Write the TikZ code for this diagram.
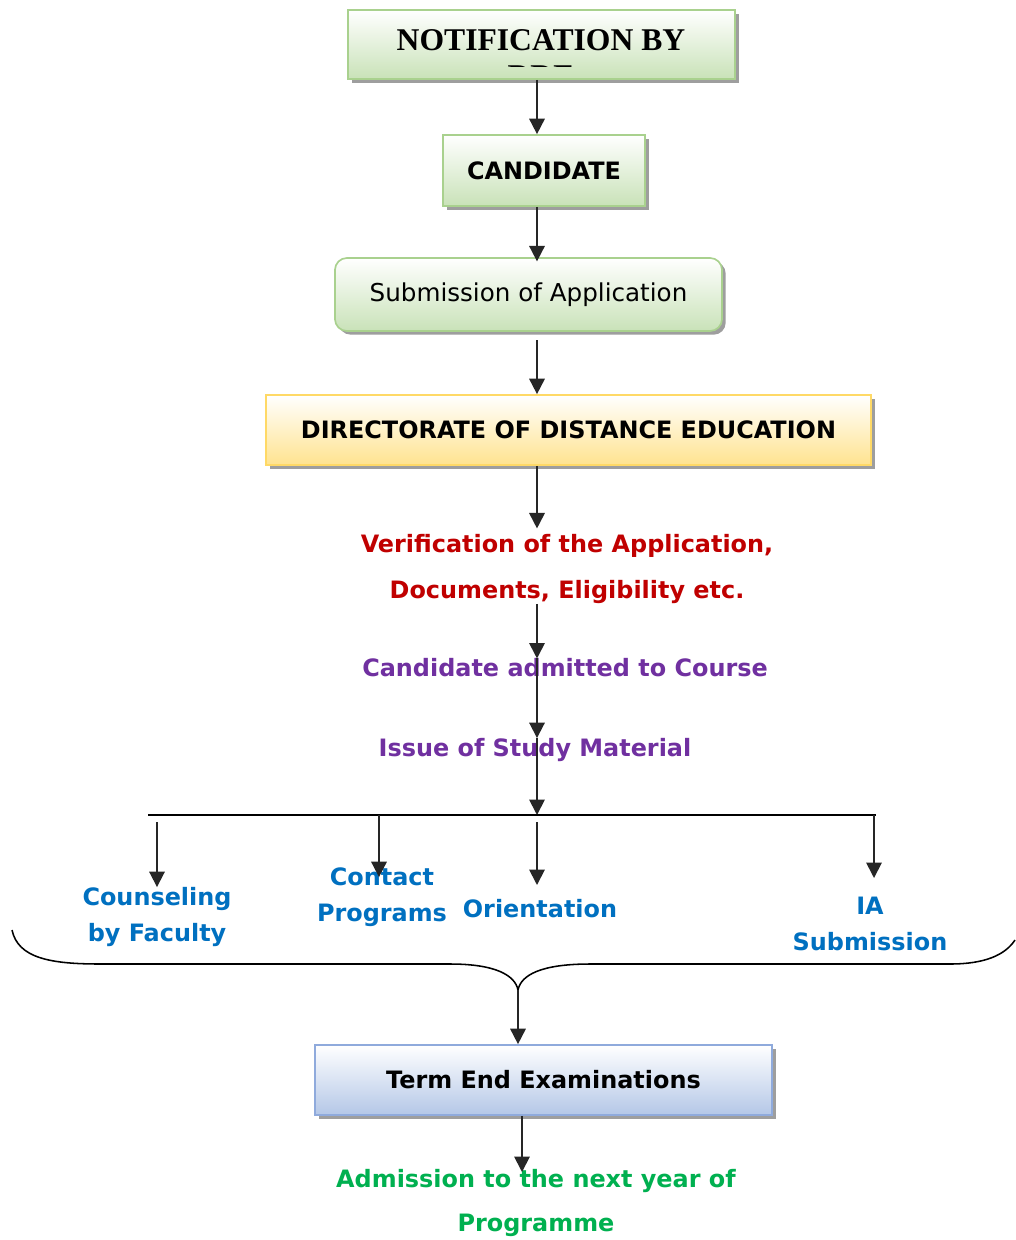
\documentclass[tikz,border=0pt]{standalone}
\usepackage{fontspec}
\setmainfont{DejaVu Sans}
\newfontfamily\notiffont{Liberation Serif}
\usepackage{tikz}
\usetikzlibrary{arrows.meta,shadows}
\definecolor{greenfill}{HTML}{C9E2B8}
\definecolor{greenline}{HTML}{A9D18E}
\definecolor{yellowfill}{HTML}{FFE38F}
\definecolor{yellowline}{HTML}{FFD966}
\definecolor{bluefill}{HTML}{B4C7E7}
\definecolor{blueline}{HTML}{8FAADC}
\definecolor{verifred}{HTML}{C00000}
\definecolor{admitpurple}{HTML}{7030A0}
\definecolor{modeblue}{HTML}{0070C0}
\definecolor{nextgreen}{HTML}{00B050}

\begin{document}
\begin{tikzpicture}[x=0.025cm,y=-0.025cm,
		arr/.style={-{Triangle[length=11pt,width=11pt]},line width=1.3pt,draw=black!85},
		box/.style={draw,line width=1.2pt,inner sep=0pt,font=\fontsize{17}{20}\selectfont\bfseries,
			drop shadow={shadow xshift=2.6pt,shadow yshift=-2.6pt,fill=black!38,opacity=1}},
		greenbox/.style={box,draw=greenline,top color=white,bottom color=greenfill},
		yellowbox/.style={box,draw=yellowline,top color=white,bottom color=yellowfill},
		bluebox/.style={box,draw=blueline,top color=white,bottom color=bluefill},
		lbl/.style={inner sep=0pt,align=center,font=\fontsize{17}{#1}\selectfont\bfseries},
		lbl/.default=20]
	\path[use as bounding box,fill=white] (0,0) rectangle (1015,1240);
	\coordinate (spine) at (537,0);

	\node[greenbox,minimum width=9.675cm,minimum height=1.725cm] (notif) at (541.5,44.5) {};
	\node[inner sep=0pt,font=\notiffont\fontsize{22.5}{25}\selectfont\bfseries] (notiftxt) at (541,40) {NOTIFICATION BY};
	\begin{scope}
		\clip (350,12) rectangle (733,67);
		\node[inner sep=0pt,anchor=base,font=\notiffont\fontsize{22.5}{25}\selectfont\bfseries] (notifdde) at (541,87) {DDE};
	\end{scope}
	\node[greenbox,minimum width=5.05cm,minimum height=1.775cm] (cand) at (544,170.5) {CANDIDATE};
	\node[greenbox,rounded corners=0.3cm,minimum width=9.675cm,minimum height=1.825cm,
		font=\fontsize{17.5}{20}\selectfont] (subm) at (528.5,294.5) {Submission of Application};
	\node[yellowbox,minimum width=15.125cm,minimum height=1.75cm] (dde) at (568.5,430) {DIRECTORATE OF DISTANCE EDUCATION};

	\node[lbl=32.7,text=verifred] (verif) at (567,569) {Verification of the Application,\\Documents, Eligibility etc.};
	\node[lbl,text=admitpurple] (admit) at (565,668) {Candidate admitted to Course};
	\node[lbl,text=admitpurple] (issue) at (535,750) {Issue of Study Material};

	\coordinate (barl) at (148,815);
	\coordinate (barr) at (876,815);
	\node[lbl=25.6,text=modeblue] (couns) at (157,917) {Counseling\\by Faculty};
	\node[lbl=25.6,text=modeblue] (contact) at (382,897) {Contact\\Programs};
	\node[lbl,text=modeblue] (orient) at (540,909) {Orientation};
	\node[lbl=25.6,text=modeblue] (ia) at (870,924) {IA\\Submission};
	\coordinate (orienttip) at (537,885);
	\coordinate (iatip) at (874,878);

	\coordinate (bracel) at (12,930);
	\coordinate (bracetip) at (518,990);
	\coordinate (bracer) at (1015,940);
	\node[bluebox,minimum width=11.425cm,minimum height=1.75cm] (term) at (543.5,1080) {Term End Examinations};
	\node[lbl=31.3,text=nextgreen] (nexty) at (536,1203) {Admission to the next year of\\Programme};
	\coordinate (nexttip) at (522,1172);

	\draw[arr] (notif.south -| spine) -- (cand.north -| spine);
	\draw[arr] (cand.south -| spine) -- ([yshift=-3pt]subm.north -| spine);
	\draw[arr] ([yshift=-6pt]subm.south -| spine) -- (dde.north -| spine);
	\draw[arr] (dde.south -| spine) -- ([yshift=4pt]verif.north -| spine);
	\draw[arr] (verif.south -| spine) -- (admit.north -| spine);
	\draw[arr] (admit.north -| spine) -- (issue.north -| spine);
	\draw[arr] (issue.north -| spine) -- (spine |- barl);
	\draw[line width=1.3pt] (barl) -- (barr);
	\draw[arr] ([yshift=-5pt]barl -| couns) -- (couns.north);
	\draw[arr] (barl -| 379,0) -- ([yshift=-7pt]contact.north -| 379,0);
	\draw[arr] ([yshift=-5pt]spine |- barl) -- (orienttip);
	\draw[arr] (barl -| iatip) -- (iatip);
	\draw[line width=1.1pt] (bracel) .. controls (18,958) and (50,964) .. (100,964) -- (450,964)
		.. controls (495,964) and (515,975) .. (bracetip)
		.. controls (521,975) and (541,964) .. (590,964) -- (950,964)
		.. controls (985,964) and (1005,955) .. (bracer);
	\draw[arr] (bracetip) -- (bracetip |- term.north);
	\draw[arr] (term.south -| nexttip) -- (nexttip);
\end{tikzpicture}
\end{document}
